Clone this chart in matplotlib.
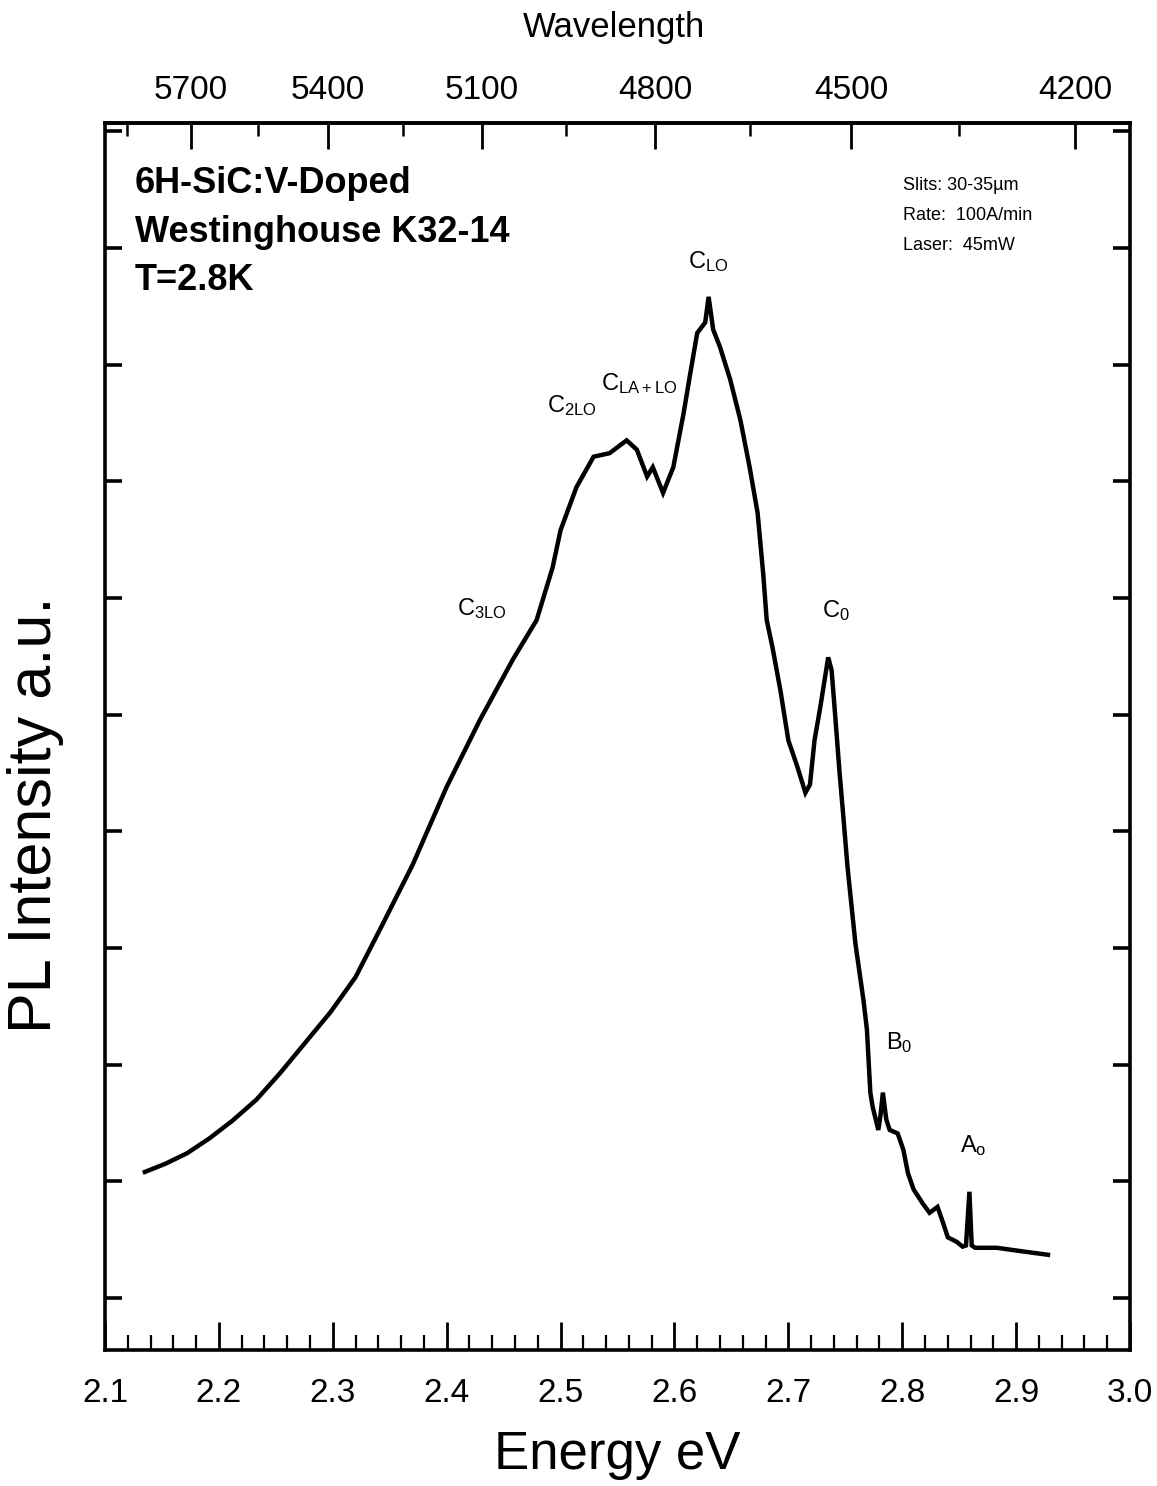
import matplotlib
matplotlib.use('Agg')
import matplotlib.pyplot as plt
from matplotlib.ticker import MultipleLocator, FixedLocator, NullFormatter

# PL spectrum, 6H-SiC:V, read point by point (energy in eV, intensity a.u.)
energy = [2.135, 2.153, 2.172, 2.192, 2.212, 2.233, 2.254, 2.276, 2.298, 2.320,
          2.341, 2.370, 2.400, 2.429, 2.458, 2.479, 2.493, 2.500, 2.514, 2.529,
          2.543, 2.558, 2.567, 2.576, 2.581, 2.590, 2.599, 2.608, 2.614, 2.620,
          2.627, 2.630, 2.634, 2.640, 2.649, 2.658, 2.666, 2.673, 2.678, 2.681,
          2.686, 2.693, 2.700, 2.708, 2.715, 2.719, 2.723, 2.728, 2.735, 2.738,
          2.741, 2.745, 2.748, 2.752, 2.759, 2.766, 2.769, 2.772, 2.774, 2.779,
          2.781, 2.783, 2.786, 2.789, 2.796, 2.801, 2.805, 2.810, 2.818, 2.824,
          2.831, 2.836, 2.840, 2.848, 2.853, 2.856, 2.859, 2.861, 2.864, 2.883,
          2.905, 2.928]
intensity = [1.08, 1.15, 1.24, 1.37, 1.52, 1.70, 1.93, 2.19, 2.45, 2.75,
             3.15, 3.71, 4.38, 4.95, 5.47, 5.81, 6.26, 6.58, 6.95, 7.21,
             7.24, 7.35, 7.27, 7.04, 7.12, 6.90, 7.12, 7.58, 7.93, 8.27,
             8.36, 8.58, 8.30, 8.15, 7.87, 7.52, 7.12, 6.73, 6.20, 5.81,
             5.58, 5.21, 4.78, 4.55, 4.33, 4.40, 4.78, 5.06, 5.49, 5.38,
             5.01, 4.50, 4.16, 3.69, 3.03, 2.55, 2.30, 1.76, 1.64, 1.44,
             1.57, 1.76, 1.53, 1.44, 1.41, 1.27, 1.07, 0.93, 0.81, 0.73,
             0.78, 0.64, 0.52, 0.48, 0.44, 0.45, 0.91, 0.45, 0.43, 0.43,
             0.40, 0.37]

# peak assignments: label, energy, intensity of label anchor
peak_labels = [r'$\mathregular{C_{LO}}$', r'$\mathregular{C_{LA+LO}}$',
               r'$\mathregular{C_{2LO}}$', r'$\mathregular{C_{3LO}}$',
               r'$\mathregular{C_{0}}$', r'$\mathregular{B_{0}}$',
               r'$\mathregular{A_{o}}$']
peak_x = [2.612, 2.5355, 2.488, 2.409, 2.7296, 2.7858, 2.8507]
peak_y = [8.88, 7.84, 7.65, 5.91, 5.89, 2.19, 1.31]

wl_major = [5700, 5400, 5100, 4800, 4500, 4200]
wl_minor = [5850, 5550, 5250, 4950, 4650, 4350]

plt.rcParams['font.family'] = ['Liberation Sans', 'DejaVu Sans']

fig = plt.figure(figsize=(11.57, 14.86), dpi=100)
ax = fig.add_axes([105 / 1157, 1 - 1350 / 1486, 1025 / 1157, 1227 / 1486])

ax.plot(energy, intensity, color='black', lw=3.2, solid_joinstyle='miter')

ax.set_xlim(2.1, 3.0)
ax.set_ylim(-0.446, 10.07)

for s in ax.spines.values():
    s.set_linewidth(2.6)

ax.xaxis.set_major_locator(MultipleLocator(0.1))
ax.xaxis.set_minor_locator(MultipleLocator(0.02))
ax.yaxis.set_major_locator(MultipleLocator(1))
ax.yaxis.set_major_formatter(NullFormatter())
ax.tick_params(axis='x', which='major', direction='in', length=20, width=2,
               pad=20, labelsize=24)
ax.tick_params(axis='x', which='minor', direction='in', length=11, width=1.6)
ax.tick_params(axis='y', which='major', direction='in', length=12, width=2.6,
               left=True, right=True)

# wavelength scale on top (Angstrom)
sec = ax.secondary_xaxis('top', functions=(lambda e: 12398.4 / e,
                                           lambda w: 12398.4 / w))
sec.xaxis.set_major_locator(FixedLocator(wl_major))
sec.xaxis.set_minor_locator(FixedLocator(wl_minor))
sec.tick_params(which='major', direction='in', length=19, width=2,
                pad=12, labelsize=24)
sec.tick_params(which='minor', direction='in', length=9, width=1.8)
sec.spines['top'].set_linewidth(2.6)

fig.text(614 / 1157, 1 - 27 / 1486, 'Wavelength', ha='center', va='center',
         fontsize=25)
fig.text(617 / 1157, 1 - 1455 / 1486, 'Energy eV', ha='center', va='center',
         fontsize=38)
fig.text(36 / 1157, 1 - 815 / 1486, 'PL Intensity a.u.', ha='center',
         va='center', rotation=90, fontsize=44)

# sample info
fig.text(135 / 1157, 1 - 232 / 1486,
         '6H-SiC:V-Doped\nWestinghouse K32-14\nT=2.8K',
         ha='left', va='center', fontsize=26, fontweight='bold',
         linespacing=1.5)

# measurement settings
fig.text(903 / 1157, 1 - 215 / 1486,
         'Slits: 30-35\u00b5m\nRate:  100A/min\nLaser:  45mW',
         ha='left', va='center', fontsize=13, linespacing=2.0)

for lab, px, py in zip(peak_labels, peak_x, peak_y):
    ax.text(px, py, lab, ha='left', va='center', fontsize=17)

fig.savefig('out.png', dpi=100)
